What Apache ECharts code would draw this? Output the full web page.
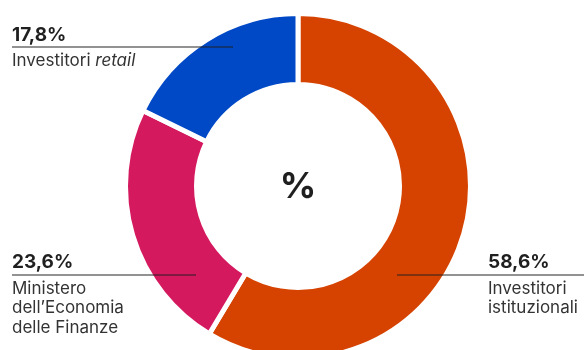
<!DOCTYPE html>
<html>
<head>
<meta charset="utf-8">
<script src="https://cdn.jsdelivr.net/npm/echarts@6/dist/echarts.min.js"></script>
<style>
  html, body { margin: 0; padding: 0; background: #fff; }
  #chart { width: 584px; height: 350px; }
</style>
</head>
<body>
<div id="chart"></div>
<script>
// Shareholder composition (%)
const categories = ['Investitori istituzionali', 'Ministero dell\u2019Economia delle Finanze', 'Investitori retail'];
const shares = [58.6, 23.6, 17.8];
const colors = ['#D64300', '#D4195E', '#0049C6'];

const FONT = 'Inter, Roboto, sans-serif';
const fmt = v => v.toFixed(1).replace('.', ',') + '%';

const chart = echarts.init(document.getElementById('chart'), null, { renderer: 'canvas' });

const leader = (x1, y1, x2, y2) => ({
  type: 'line', z: 100,
  shape: { x1, y1, x2, y2 },
  style: { stroke: 'rgba(30,30,30,0.65)', lineWidth: 1.5 }
});

const valueText = (x, y, v) => ({
  type: 'text', z: 100, x, y,
  style: { text: fmt(v), font: `700 19px ${FONT}`, fill: '#1f1f1f', textVerticalAlign: 'bottom' }
});

chart.setOption({
  animation: false,
  series: [{
    type: 'pie',
    center: [298, 186],
    radius: [101.5, 172.5],
    startAngle: 90,
    clockwise: true,
    label: { show: false },
    labelLine: { show: false },
    emphasis: { disabled: true },
    itemStyle: { borderColor: '#fff', borderWidth: 5 },
    data: categories.map((name, i) => ({ name, value: shares[i], itemStyle: { color: colors[i] } }))
  }],
  graphic: [
    {
      type: 'text', z: 100, x: 298, y: 187,
      style: { text: '%', font: `700 36px ${FONT}`, fill: '#1f1f1f', textAlign: 'center', textVerticalAlign: 'middle' }
    },
    // Investitori retail
    valueText(12, 45, shares[2]),
    leader(12, 47, 233, 47),
    {
      type: 'text', z: 100, x: 12, y: 52,
      style: {
        text: '{a|Investitori }{b|retail}',
        rich: {
          a: { font: `400 17px ${FONT}`, fill: '#333' },
          b: { font: `italic 400 17px ${FONT}`, fill: '#333' }
        }
      }
    },
    // Ministero dell'Economia delle Finanze
    valueText(12, 272, shares[1]),
    leader(12, 275, 196, 275),
    {
      type: 'text', z: 100, x: 12, y: 279,
      style: { text: 'Ministero\ndell\u2019Economia\ndelle Finanze', font: `400 17px ${FONT}`, fill: '#333', lineHeight: 19.5 }
    },
    // Investitori istituzionali
    valueText(488, 272, shares[0]),
    leader(397, 275, 584, 275),
    {
      type: 'text', z: 100, x: 488, y: 279,
      style: { text: 'Investitori\nistituzionali', font: `400 17px ${FONT}`, fill: '#333', lineHeight: 19.5 }
    }
  ]
});
</script>
</body>
</html>
